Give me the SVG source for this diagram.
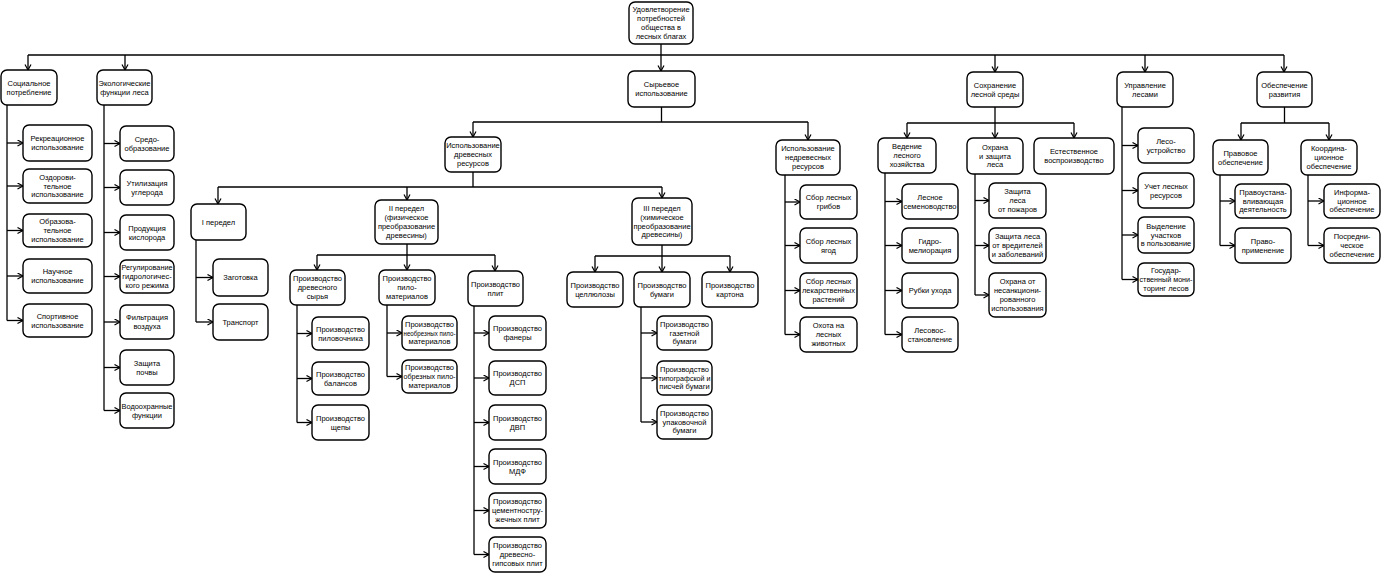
<svg xmlns="http://www.w3.org/2000/svg" width="1381" height="573" viewBox="0 0 1381 573">
<style>
rect{fill:#fff;stroke:#000;stroke-width:1.4}
text{font-family:"Liberation Sans",Arial,sans-serif;font-size:7.5px;text-anchor:middle;fill:#000}
#connectors path{fill:none;stroke:#000;stroke-width:1.3}
#connectors path.a{marker-end:url(#arr)}
</style>
<defs>
<marker id="arr" markerUnits="userSpaceOnUse" markerWidth="8" markerHeight="8" refX="6" refY="3.5" orient="auto">
<path d="M0.5,0.5 L6,3.5 L0.5,6.5" fill="none" stroke="#000" stroke-width="1.2"/>
</marker>
</defs>
<rect x="0" y="0" width="1381" height="573" style="fill:#fff;stroke:none"/>
<g id="connectors">
<path class="a" d="M661,44 V71"/>
<path d="M28,55 H1284"/>
<path class="a" d="M28,55 V70"/><path class="a" d="M125,55 V70"/><path class="a" d="M995,55 V72"/><path class="a" d="M1145,55 V72"/><path class="a" d="M1284,55 V72"/>
<path d="M7,105 V320.5"/>
<path class="a" d="M7,143 H23"/><path class="a" d="M7,186 H23"/><path class="a" d="M7,230.5 H23"/><path class="a" d="M7,276 H23"/><path class="a" d="M7,320.5 H23"/>
<path d="M104,105 V410.5"/>
<path class="a" d="M104,143.5 H120"/><path class="a" d="M104,187.5 H120"/><path class="a" d="M104,232.5 H120"/><path class="a" d="M104,276.5 H120"/><path class="a" d="M104,322 H120"/><path class="a" d="M104,367.5 H120"/><path class="a" d="M104,410.5 H120"/>
<path d="M661.5,107 V122 M473,122 H808"/>
<path class="a" d="M473,122 V137"/><path class="a" d="M808,122 V140"/>
<path d="M473,172 V187 M218,187 H662"/>
<path class="a" d="M218,187 V204"/><path class="a" d="M407,187 V200"/><path class="a" d="M662,187 V198"/>
<path d="M196,240 V322"/>
<path class="a" d="M196,277.5 H213"/><path class="a" d="M196,322 H213"/>
<path d="M407,244 V255 M317,255 H495"/>
<path class="a" d="M317,255 V270"/><path class="a" d="M407,255 V270"/><path class="a" d="M495,255 V271"/>
<path d="M297,305 V422.5"/>
<path class="a" d="M297,333.5 H312"/><path class="a" d="M297,378.5 H312"/><path class="a" d="M297,422.5 H312"/>
<path d="M387,305 V376.5"/>
<path class="a" d="M387,333 H402"/><path class="a" d="M387,376.5 H402"/>
<path d="M474,306 V554.5"/>
<path class="a" d="M474,333 H489"/><path class="a" d="M474,378 H489"/><path class="a" d="M474,422.5 H489"/><path class="a" d="M474,466.5 H489"/><path class="a" d="M474,510.5 H489"/><path class="a" d="M474,554.5 H489"/>
<path d="M662,245 V256 M595,256 H730"/>
<path class="a" d="M595,256 V272"/><path class="a" d="M662,256 V272"/><path class="a" d="M730,256 V272"/>
<path d="M641,307 V422"/>
<path class="a" d="M641,333 H657"/><path class="a" d="M641,378 H657"/><path class="a" d="M641,422 H657"/>
<path d="M785,175 V334.5"/>
<path class="a" d="M785,202 H800"/><path class="a" d="M785,245.5 H800"/><path class="a" d="M785,290.5 H800"/><path class="a" d="M785,334.5 H800"/>
<path d="M995,107 V123 M907,123 H1074"/>
<path class="a" d="M907,123 V138"/><path class="a" d="M995,123 V138"/><path class="a" d="M1074,123 V138"/>
<path d="M885,173 V334.5"/>
<path class="a" d="M885,201.5 H902"/><path class="a" d="M885,245.5 H902"/><path class="a" d="M885,290.5 H902"/><path class="a" d="M885,334.5 H902"/>
<path d="M975,174 V295"/>
<path class="a" d="M975,200.5 H989"/><path class="a" d="M975,245.5 H989"/><path class="a" d="M975,295 H989"/>
<path d="M1122,107 V279.5"/>
<path class="a" d="M1122,145.5 H1138"/><path class="a" d="M1122,190.5 H1138"/><path class="a" d="M1122,235 H1138"/><path class="a" d="M1122,279.5 H1138"/>
<path d="M1284.5,107 V123 M1241,123 H1329"/>
<path class="a" d="M1241,123 V140"/><path class="a" d="M1329,123 V140"/>
<path d="M1220,175 V245.5"/>
<path class="a" d="M1220,201 H1235"/><path class="a" d="M1220,245.5 H1235"/>
<path d="M1308,175 V245.5"/>
<path class="a" d="M1308,201 H1324"/><path class="a" d="M1308,245.5 H1324"/>
</g>

<g id="root"><rect x="629" y="2" width="64" height="42" rx="6"/><text><tspan x="661" y="12.4">Удовлетворение</tspan><tspan x="661" y="21.2">потребностей</tspan><tspan x="661" y="30">общества в</tspan><tspan x="661" y="38.8">лесных благах</tspan></text></g>

<g id="social"><rect x="1" y="70" width="56" height="35" rx="6"/><text><tspan x="29" y="85.7">Социальное</tspan><tspan x="29" y="94.5">потребление</tspan></text></g>
<g id="ecology"><rect x="97" y="70" width="55" height="35" rx="6"/><text><tspan x="124.5" y="85.7">Экологические</tspan><tspan x="124.5" y="94.5">функции леса</tspan></text></g>
<g id="raw"><rect x="628" y="71" width="67" height="36" rx="6"/><text><tspan x="661.5" y="87.2">Сырьевое</tspan><tspan x="661.5" y="96">использование</tspan></text></g>
<g id="preserve"><rect x="967" y="72" width="56" height="35" rx="6"/><text><tspan x="995" y="87.7">Сохранение</tspan><tspan x="995" y="96.5">лесной среды</tspan></text></g>
<g id="manage"><rect x="1117" y="72" width="56" height="35" rx="6"/><text><tspan x="1145" y="87.7">Управление</tspan><tspan x="1145" y="96.5">лесами</tspan></text></g>
<g id="develop"><rect x="1257" y="72" width="55" height="35" rx="6"/><text><tspan x="1284.5" y="87.7">Обеспечение</tspan><tspan x="1284.5" y="96.5">развития</tspan></text></g>

<g id="a1"><rect x="23" y="125" width="69" height="36" rx="6"/><text><tspan x="57.5" y="141.2">Рекреационное</tspan><tspan x="57.5" y="150">использование</tspan></text></g>
<g id="a2"><rect x="23" y="169" width="69" height="34" rx="6"/><text><tspan x="57.5" y="179.8">Оздорови-</tspan><tspan x="57.5" y="188.6">тельное</tspan><tspan x="57.5" y="197.4">использование</tspan></text></g>
<g id="a3"><rect x="23" y="214" width="69" height="33" rx="6"/><text><tspan x="57.5" y="224.3">Образова-</tspan><tspan x="57.5" y="233.1">тельное</tspan><tspan x="57.5" y="241.9">использование</tspan></text></g>
<g id="a4"><rect x="23" y="259" width="69" height="34" rx="6"/><text><tspan x="57.5" y="274.2">Научное</tspan><tspan x="57.5" y="283">использование</tspan></text></g>
<g id="a5"><rect x="23" y="304" width="69" height="33" rx="6"/><text><tspan x="57.5" y="318.7">Спортивное</tspan><tspan x="57.5" y="327.5">использование</tspan></text></g>

<g id="b1"><rect x="120" y="126" width="54" height="35" rx="6"/><text><tspan x="147" y="141.7">Средо-</tspan><tspan x="147" y="150.5">образование</tspan></text></g>
<g id="b2"><rect x="120" y="170" width="54" height="35" rx="6"/><text><tspan x="147" y="185.7">Утилизация</tspan><tspan x="147" y="194.5">углерода</tspan></text></g>
<g id="b3"><rect x="120" y="215" width="54" height="35" rx="6"/><text><tspan x="147" y="230.7">Продукция</tspan><tspan x="147" y="239.5">кислорода</tspan></text></g>
<g id="b4"><rect x="120" y="260" width="54" height="33" rx="6"/><text><tspan x="147" y="270.3" textLength="51" lengthAdjust="spacingAndGlyphs">Регулирование</tspan><tspan x="147" y="279.1">гидрологичес-</tspan><tspan x="147" y="287.9">кого режима</tspan></text></g>
<g id="b5"><rect x="120" y="305" width="54" height="34" rx="6"/><text><tspan x="147" y="320.2">Фильтрация</tspan><tspan x="147" y="329">воздуха</tspan></text></g>
<g id="b6"><rect x="120" y="350" width="54" height="35" rx="6"/><text><tspan x="147" y="365.7">Защита</tspan><tspan x="147" y="374.5">почвы</tspan></text></g>
<g id="b7"><rect x="120" y="393" width="54" height="35" rx="6"/><text><tspan x="147" y="408.7" textLength="51" lengthAdjust="spacingAndGlyphs">Водоохранные</tspan><tspan x="147" y="417.5">функции</tspan></text></g>

<g id="c1"><rect x="445" y="137" width="56" height="35" rx="6"/><text><tspan x="473" y="148.3">Использование</tspan><tspan x="473" y="157.1">древесных</tspan><tspan x="473" y="165.9">ресурсов</tspan></text></g>
<g id="c2"><rect x="776" y="140" width="64" height="35" rx="6"/><text><tspan x="808" y="151.3">Использование</tspan><tspan x="808" y="160.1">недревесных</tspan><tspan x="808" y="168.9">ресурсов</tspan></text></g>

<g id="g1"><rect x="191" y="204" width="55" height="36" rx="6"/><text><tspan x="218.5" y="224.6">I передел</tspan></text></g>
<g id="g2"><rect x="375" y="200" width="63" height="44" rx="6"/><text><tspan x="406.5" y="211.4">II передел</tspan><tspan x="406.5" y="220.2">(физическое</tspan><tspan x="406.5" y="229">преобразование</tspan><tspan x="406.5" y="237.8">древесины)</tspan></text></g>
<g id="g3"><rect x="632" y="198" width="60" height="47" rx="6"/><text><tspan x="662" y="210.9">III передел</tspan><tspan x="662" y="219.7">(химическое</tspan><tspan x="662" y="228.5">преобразование</tspan><tspan x="662" y="237.3">древесины)</tspan></text></g>

<g id="g1a"><rect x="213" y="259" width="55" height="37" rx="6"/><text><tspan x="240.5" y="280.1">Заготовка</tspan></text></g>
<g id="g1b"><rect x="213" y="304" width="55" height="36" rx="6"/><text><tspan x="240.5" y="324.6">Транспорт</tspan></text></g>

<g id="h1"><rect x="290" y="270" width="55" height="35" rx="6"/><text><tspan x="317.5" y="281.3">Производство</tspan><tspan x="317.5" y="290.1">древесного</tspan><tspan x="317.5" y="298.9">сырья</tspan></text></g>
<g id="h2"><rect x="379" y="270" width="56" height="35" rx="6"/><text><tspan x="407" y="281.3">Производство</tspan><tspan x="407" y="290.1">пило-</tspan><tspan x="407" y="298.9">материалов</tspan></text></g>
<g id="h3"><rect x="468" y="271" width="55" height="35" rx="6"/><text><tspan x="495.5" y="286.7">Производство</tspan><tspan x="495.5" y="295.5">плит</tspan></text></g>

<g id="h1a"><rect x="312" y="317" width="57" height="33" rx="6"/><text><tspan x="340.5" y="331.7">Производство</tspan><tspan x="340.5" y="340.5">пиловочника</tspan></text></g>
<g id="h1b"><rect x="312" y="362" width="57" height="33" rx="6"/><text><tspan x="340.5" y="376.7">Производство</tspan><tspan x="340.5" y="385.5">балансов</tspan></text></g>
<g id="h1c"><rect x="312" y="405" width="57" height="35" rx="6"/><text><tspan x="340.5" y="420.7">Производство</tspan><tspan x="340.5" y="429.5">щепы</tspan></text></g>

<g id="h2a"><rect x="402" y="316" width="55" height="34" rx="6"/><text><tspan x="429.5" y="326.8">Производство</tspan><tspan x="429.5" y="335.6" textLength="52" lengthAdjust="spacingAndGlyphs">необрезных пило-</tspan><tspan x="429.5" y="344.4">материалов</tspan></text></g>
<g id="h2b"><rect x="402" y="360" width="55" height="33" rx="6"/><text><tspan x="429.5" y="370.3">Производство</tspan><tspan x="429.5" y="379.1" textLength="52" lengthAdjust="spacingAndGlyphs">обрезных пило-</tspan><tspan x="429.5" y="387.9">материалов</tspan></text></g>

<g id="h3a"><rect x="489" y="316" width="57" height="34" rx="6"/><text><tspan x="517.5" y="331.2">Производство</tspan><tspan x="517.5" y="340">фанеры</tspan></text></g>
<g id="h3b"><rect x="489" y="361" width="57" height="34" rx="6"/><text><tspan x="517.5" y="376.2">Производство</tspan><tspan x="517.5" y="385">ДСП</tspan></text></g>
<g id="h3c"><rect x="489" y="405" width="57" height="35" rx="6"/><text><tspan x="517.5" y="420.7">Производство</tspan><tspan x="517.5" y="429.5">ДВП</tspan></text></g>
<g id="h3d"><rect x="489" y="449" width="57" height="35" rx="6"/><text><tspan x="517.5" y="464.7">Производство</tspan><tspan x="517.5" y="473.5">МДФ</tspan></text></g>
<g id="h3e"><rect x="489" y="493" width="57" height="35" rx="6"/><text><tspan x="517.5" y="504.3">Производство</tspan><tspan x="517.5" y="513.1">цементностру-</tspan><tspan x="517.5" y="521.9">жечных плит</tspan></text></g>
<g id="h3f"><rect x="489" y="537" width="57" height="35" rx="6"/><text><tspan x="517.5" y="548.3">Производство</tspan><tspan x="517.5" y="557.1">древесно-</tspan><tspan x="517.5" y="565.9">гипсовых плит</tspan></text></g>

<g id="i1"><rect x="567" y="272" width="56" height="35" rx="6"/><text><tspan x="595" y="287.7">Производство</tspan><tspan x="595" y="296.5">целлюлозы</tspan></text></g>
<g id="i2"><rect x="634" y="272" width="56" height="35" rx="6"/><text><tspan x="662" y="287.7">Производство</tspan><tspan x="662" y="296.5">бумаги</tspan></text></g>
<g id="i3"><rect x="702" y="272" width="56" height="35" rx="6"/><text><tspan x="730" y="287.7">Производство</tspan><tspan x="730" y="296.5">картона</tspan></text></g>

<g id="i2a"><rect x="657" y="316" width="55" height="34" rx="6"/><text><tspan x="684.5" y="326.8">Производство</tspan><tspan x="684.5" y="335.6">газетной</tspan><tspan x="684.5" y="344.4">бумаги</tspan></text></g>
<g id="i2b"><rect x="657" y="361" width="55" height="34" rx="6"/><text><tspan x="684.5" y="371.8">Производство</tspan><tspan x="684.5" y="380.6" textLength="52" lengthAdjust="spacingAndGlyphs">типографской и</tspan><tspan x="684.5" y="389.4">писчей бумаги</tspan></text></g>
<g id="i2c"><rect x="657" y="405" width="55" height="34" rx="6"/><text><tspan x="684.5" y="415.8">Производство</tspan><tspan x="684.5" y="424.6">упаковочной</tspan><tspan x="684.5" y="433.4">бумаги</tspan></text></g>

<g id="c2a"><rect x="800" y="185" width="57" height="34" rx="6"/><text><tspan x="828.5" y="200.2">Сбор лесных</tspan><tspan x="828.5" y="209">грибов</tspan></text></g>
<g id="c2b"><rect x="800" y="228" width="57" height="35" rx="6"/><text><tspan x="828.5" y="243.7">Сбор лесных</tspan><tspan x="828.5" y="252.5">ягод</tspan></text></g>
<g id="c2c"><rect x="800" y="273" width="57" height="35" rx="6"/><text><tspan x="828.5" y="284.3">Сбор лесных</tspan><tspan x="828.5" y="293.1">лекарственных</tspan><tspan x="828.5" y="301.9">растений</tspan></text></g>
<g id="c2d"><rect x="800" y="317" width="57" height="35" rx="6"/><text><tspan x="828.5" y="328.3">Охота на</tspan><tspan x="828.5" y="337.1">лесных</tspan><tspan x="828.5" y="345.9">животных</tspan></text></g>

<g id="d1"><rect x="878" y="138" width="58" height="35" rx="6"/><text><tspan x="907" y="149.3">Ведение</tspan><tspan x="907" y="158.1">лесного</tspan><tspan x="907" y="166.9">хозяйства</tspan></text></g>
<g id="d2"><rect x="967" y="138" width="56" height="36" rx="6"/><text><tspan x="995" y="149.8">Охрана</tspan><tspan x="995" y="158.6">и защита</tspan><tspan x="995" y="167.4">леса</tspan></text></g>
<g id="d3"><rect x="1034" y="138" width="80" height="36" rx="6"/><text><tspan x="1074" y="154.2">Естественное</tspan><tspan x="1074" y="163">воспроизводство</tspan></text></g>

<g id="d1a"><rect x="902" y="184" width="56" height="35" rx="6"/><text><tspan x="930" y="199.7">Лесное</tspan><tspan x="930" y="208.5">семеноводство</tspan></text></g>
<g id="d1b"><rect x="902" y="228" width="56" height="35" rx="6"/><text><tspan x="930" y="243.7">Гидро-</tspan><tspan x="930" y="252.5">мелиорация</tspan></text></g>
<g id="d1c"><rect x="902" y="273" width="56" height="35" rx="6"/><text><tspan x="930" y="293.1">Рубки ухода</tspan></text></g>
<g id="d1d"><rect x="902" y="317" width="56" height="35" rx="6"/><text><tspan x="930" y="332.7">Лесовос-</tspan><tspan x="930" y="341.5">становление</tspan></text></g>

<g id="d2a"><rect x="989" y="183" width="57" height="35" rx="6"/><text><tspan x="1017.5" y="194.3">Защита</tspan><tspan x="1017.5" y="203.1">леса</tspan><tspan x="1017.5" y="211.9">от пожаров</tspan></text></g>
<g id="d2b"><rect x="989" y="228" width="57" height="35" rx="6"/><text><tspan x="1017.5" y="239.3">Защита леса</tspan><tspan x="1017.5" y="248.1">от вредителей</tspan><tspan x="1017.5" y="256.9">и заболеваний</tspan></text></g>
<g id="d2c"><rect x="989" y="273" width="57" height="44" rx="6"/><text><tspan x="1017.5" y="284.4">Охрана от</tspan><tspan x="1017.5" y="293.2">несанкциони-</tspan><tspan x="1017.5" y="302">рованного</tspan><tspan x="1017.5" y="310.8">использования</tspan></text></g>

<g id="e1"><rect x="1138" y="128" width="56" height="35" rx="6"/><text><tspan x="1166" y="143.7">Лесо-</tspan><tspan x="1166" y="152.5">устройство</tspan></text></g>
<g id="e2"><rect x="1138" y="173" width="56" height="35" rx="6"/><text><tspan x="1166" y="188.7">Учет лесных</tspan><tspan x="1166" y="197.5">ресурсов</tspan></text></g>
<g id="e3"><rect x="1138" y="217" width="56" height="36" rx="6"/><text><tspan x="1166" y="228.8">Выделение</tspan><tspan x="1166" y="237.6">участков</tspan><tspan x="1166" y="246.4">в пользование</tspan></text></g>
<g id="e4"><rect x="1138" y="263" width="56" height="33" rx="6"/><text><tspan x="1166" y="273.3">Государ-</tspan><tspan x="1166" y="282.1" textLength="53" lengthAdjust="spacingAndGlyphs">ственный мони-</tspan><tspan x="1166" y="290.9">торинг лесов</tspan></text></g>

<g id="f1"><rect x="1213" y="140" width="55" height="35" rx="6"/><text><tspan x="1240.5" y="155.7">Правовое</tspan><tspan x="1240.5" y="164.5">обеспечение</tspan></text></g>
<g id="f2"><rect x="1301" y="140" width="56" height="35" rx="6"/><text><tspan x="1329" y="151.3">Координа-</tspan><tspan x="1329" y="160.1">ционное</tspan><tspan x="1329" y="168.9">обеспечение</tspan></text></g>

<g id="f1a"><rect x="1235" y="184" width="56" height="34" rx="6"/><text><tspan x="1263" y="194.8">Правоустана-</tspan><tspan x="1263" y="203.6">вливающая</tspan><tspan x="1263" y="212.4">деятельность</tspan></text></g>
<g id="f1b"><rect x="1235" y="228" width="56" height="35" rx="6"/><text><tspan x="1263" y="243.7">Право-</tspan><tspan x="1263" y="252.5">применение</tspan></text></g>
<g id="f2a"><rect x="1324" y="184" width="56" height="34" rx="6"/><text><tspan x="1352" y="194.8">Информа-</tspan><tspan x="1352" y="203.6">ционное</tspan><tspan x="1352" y="212.4">обеспечение</tspan></text></g>
<g id="f2b"><rect x="1324" y="228" width="56" height="35" rx="6"/><text><tspan x="1352" y="239.3">Посредни-</tspan><tspan x="1352" y="248.1">ческое</tspan><tspan x="1352" y="256.9">обеспечение</tspan></text></g>
</svg>
